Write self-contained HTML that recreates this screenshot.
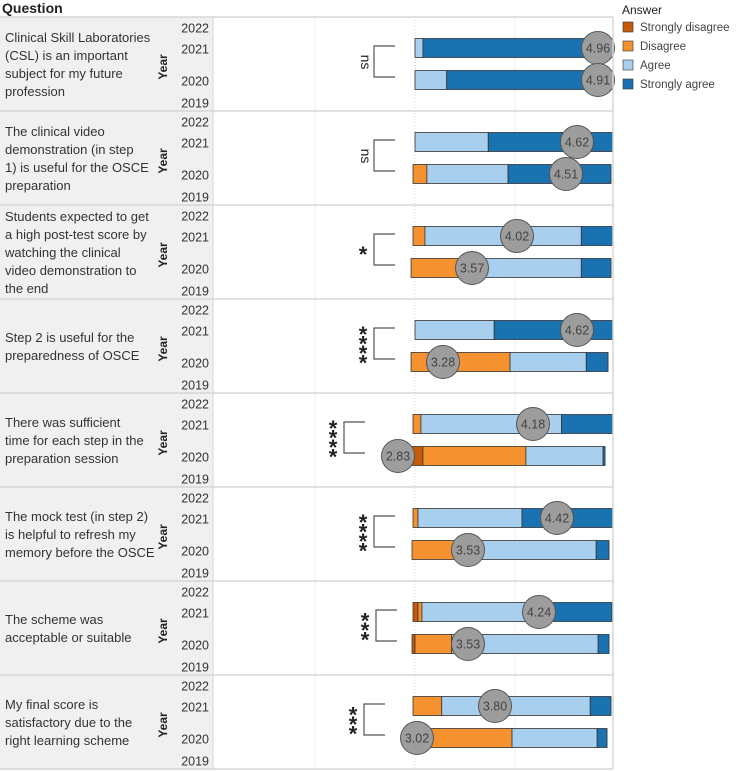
<!DOCTYPE html>
<html><head><meta charset="utf-8"><style>
html,body{margin:0;padding:0;background:#fff;}
svg{display:block;font-family:"Liberation Sans",sans-serif;}
</style></head><body>
<svg id="chart" width="740" height="771" viewBox="0 0 740 771"></svg>
<script>
const questions=[
["Clinical Skill Laboratories","(CSL) is an important","subject for my future","profession"],
["The clinical video","demonstration (in step","1) is useful for the OSCE","preparation"],
["Students expected to get","a high post-test score by","watching the clinical","video demonstration to","the end"],
["Step 2 is useful for the","preparedness of OSCE"],
["There was sufficient","time for each step in the","preparation session"],
["The mock test (in step 2)","is helpful to refresh my","memory before the OSCE"],
["The scheme was","acceptable or suitable"],
["My final score is","satisfactory due to the","right learning scheme"]];
const answers=["Strongly disagree","Disagree","Agree","Strongly agree"];
const starts2021=[0,0,-1,0,-1,-1,-1,-1];
const starts2020=[0,-1,-2,-2,-3,-1.5,-1.5,-2];
const pct2021=[[0,0,4,96],[0,0,37,63],[0,6,79,16],[0,0,40,60],[0,4,71,26],[0,2.5,52.5,46],[2.5,2,65,31],[0,14.5,75,10.5]];
const pct2020=[[0,0,16,84],[0,7,41,52],[0,25,61,15],[0,50,38.5,11],[7,52,39,1],[0,24,69,6.5],[1.5,18.5,74,5.5],[0,51,43,5]];
const score2021=[4.96,4.62,4.02,4.62,4.18,4.42,4.24,3.80];
const score2020=[4.91,4.51,3.57,3.28,2.83,3.53,3.53,3.02];
const sigLabels=["ns","ns","*","****","****","****","***","***"];
const years=["2022","2021","2020","2019"];

const colors=["#c8590b","#f5922f","#a8cfee","#1a72b0"];
const svg=document.getElementById('chart');
const NS="http://www.w3.org/2000/svg";
function mk(tag,attrs,parent){const e=document.createElementNS(NS,tag);for(const k in attrs)e.setAttribute(k,attrs[k]);(parent||svg).appendChild(e);return e;}
const xPct=p=>415+p*1.98;
const xScore=s=>Math.min(415+(s-3)*100,598);
const ROW0=17,RH=94;

let t=mk('text',{x:2,y:13,'font-size':14,'font-weight':'bold',fill:'#222'});
t.textContent="Question";
[315,515].forEach(x=>{const l=mk('line',{x1:x,x2:x,y1:ROW0,y2:ROW0+RH*8,stroke:'#ececec'});
});
let dl=mk('line',{x1:415,x2:415,y1:ROW0,y2:ROW0+RH*8,stroke:'#d8d8d8','stroke-dasharray':'1,2'});


questions.forEach((q,i)=>{
  const r=ROW0+RH*i;
  const g=mk('g',{});
  const bg=mk('rect',{x:0,y:r,width:213,height:RH,fill:'#f0f0f0'},g);
  
  mk('line',{x1:0,x2:613,y1:r,y2:r,stroke:'#d6d6d6','stroke-width':1.5},g);
  const n=q.length, lh=18, y0=r+RH/2-(n-1)*lh/2+5;
  q.forEach((line,k)=>{const tt=mk('text',{x:5,y:y0+k*lh,'font-size':13,fill:'#333'},g);
    tt.textContent=line;});
  const yl=mk('text',{x:0,y:0,'font-size':12,'font-weight':'bold',fill:'#222','text-anchor':'middle',transform:`translate(167,${r+50}) rotate(-90)`},g);
  yl.textContent="Year";
  [11,32,64,86].forEach((dy,k)=>{const yt=mk('text',{x:209,y:r+dy+4.5,'font-size':12.5,fill:'#333','text-anchor':'end'},g);
    yt.textContent=years[k];});
  [[starts2021,pct2021,score2021,31],[starts2020,pct2020,score2020,63]].forEach(([st,pc,sc,dy])=>{
    let acc=st[i];const cy=r+dy;
    pc[i].forEach((w,k)=>{if(w<=0)return;
      const b=mk('rect',{x:xPct(acc),y:cy-9.5,width:Math.max(0,xPct(acc+w)-xPct(acc)),height:19,fill:colors[k],stroke:'#333','stroke-width':0.8},g);
      acc+=w;});
    const cx=xScore(sc[i]);
    const c=mk('circle',{cx:cx,cy:cy,r:16.5,fill:'#9d9d9d',stroke:'#555','stroke-width':1},g);
    
    const ct=mk('text',{x:cx,y:cy+4.5,'font-size':12.5,fill:'#444','text-anchor':'middle'},g);
    ct.textContent=sc[i].toFixed(2);
  });
  const bx=[374,374,374,374,344,374,376,364][i];
  const br=mk('path',{d:`M${bx+21},${r+29}H${bx}V${r+60}H${bx+21}`,fill:'none',stroke:'#555','stroke-width':1.2},g);
  
  const lab=sigLabels[i];
  if(lab==="ns"){
    const st=mk('text',{x:0,y:0,'font-size':14,fill:'#222','text-anchor':'middle',transform:`translate(${bx-13},${r+45}) rotate(90)`},g);
    st.textContent=lab;
  } else {
    const n=lab.length, sp=9.5;
    const sg=mk('text',{'font-size':22,'font-weight':'bold',fill:'#222','text-anchor':'middle'},g);
    
    for(let k=0;k<n;k++){
      const cy=r+45-(n-1)*sp/2+k*sp;
      const ts=mk('tspan',{x:bx-11,y:cy+12},sg);
      ts.textContent="*";
    }
  }
});
mk('line',{x1:0,x2:613,y1:ROW0+RH*8,y2:ROW0+RH*8,stroke:'#d6d6d6','stroke-width':1.5});
mk('line',{x1:613,x2:613,y1:ROW0,y2:ROW0+RH*8,stroke:'#d6d6d6','stroke-width':1.5});
mk('line',{x1:213,x2:213,y1:ROW0,y2:ROW0+RH*8,stroke:'#d6d6d6'});
const lg=mk('g',{});
const lt=mk('text',{x:622,y:14,'font-size':12,fill:'#222'},lg);
lt.textContent="Answer";
answers.forEach((a,k)=>{const y=27+k*19;
  const sw=mk('rect',{x:623,y:y-5,width:10,height:10,fill:colors[k],stroke:'#333','stroke-width':0.6},lg);
  
  const tx=mk('text',{x:640,y:y+4,'font-size':11.5,fill:'#444'},lg);
  tx.textContent=a;});
</script>
</body></html>
